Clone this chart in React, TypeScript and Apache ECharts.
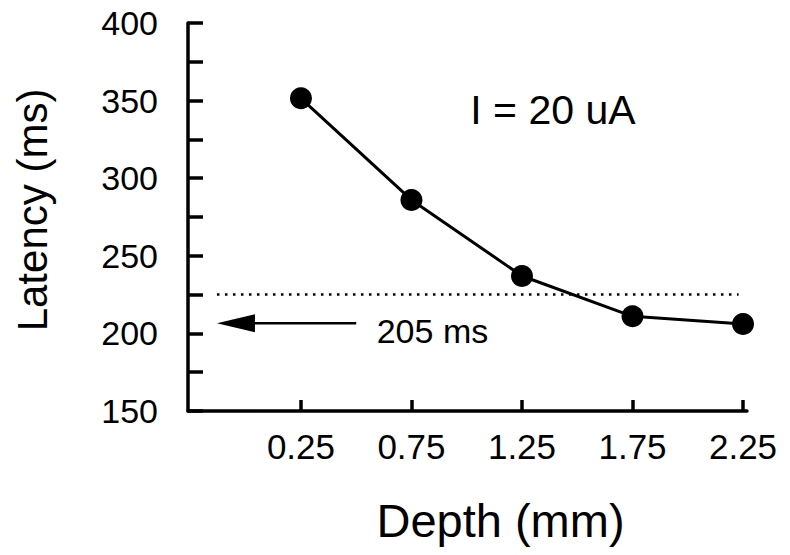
import React, { useEffect, useRef } from "react";
import * as echarts from "echarts";

const depthValues = [0.25, 0.75, 1.25, 1.75, 2.25];
const latencyValues = [351.5, 286, 237, 211, 206];
const yLabelValues = [150, 200, 250, 300, 350, 400];
const thresholdValue = 225;
const thresholdRange = [-0.13, 2.23];
const arrowLevel = 206.5;
const arrowRange = [-0.13, 0.5];
const arrowText = "205 ms";
const noteText = "I = 20 uA";
const notePos = [1.39, 344];
const arrowTextPos = [0.845, 201.5];

const FONT = "'Liberation Sans', Arial, Helvetica, sans-serif";

export default function App() {
  const ref = useRef<HTMLDivElement>(null);
  useEffect(() => {
    if (!ref.current) return;
    const chart = echarts.init(ref.current, undefined, { renderer: "svg" });
    chart.setOption({
      animation: false,
      backgroundColor: "#ffffff",
      grid: { left: 188, right: 43, top: 23, bottom: 144 },
      xAxis: {
        type: "value",
        min: -0.261,
        max: 2.268,
        name: "Depth (mm)",
        nameLocation: "middle",
        nameGap: 86,
        nameTextStyle: { fontSize: 47, color: "#000", fontFamily: FONT, padding: [0, 0, 0, 66] },
        axisLine: { show: true, onZero: false, lineStyle: { color: "#000", width: 3.5 } },
        axisTick: { show: true, inside: true, length: 11, customValues: depthValues, lineStyle: { color: "#000", width: 3.5 } },
        axisLabel: {
          customValues: depthValues,
          formatter: (v: number) => v.toFixed(2),
          fontSize: 35,
          color: "#000",
          fontFamily: FONT,
          margin: 18,
        },
        splitLine: { show: false },
      },
      yAxis: {
        type: "value",
        min: 150,
        max: 400,
        interval: 25,
        name: "Latency (ms)",
        nameLocation: "middle",
        nameGap: 135,
        nameTextStyle: { fontSize: 42, color: "#000", fontFamily: FONT, padding: [0, 0, 0, 14] },
        axisLine: { show: true, onZero: false, lineStyle: { color: "#000", width: 3.5 } },
        axisTick: { show: true, inside: true, length: 15, lineStyle: { color: "#000", width: 3.5 } },
        axisLabel: {
          customValues: yLabelValues,
          fontSize: 34,
          color: "#000",
          fontFamily: FONT,
          margin: 30,
        },
        splitLine: { show: false },
      },
      series: [
        {
          type: "line",
          data: depthValues.map((d, i) => [d, latencyValues[i]]),
          symbol: "circle",
          symbolSize: 22,
          itemStyle: { color: "#000" },
          lineStyle: { color: "#000", width: 3 },
          markLine: {
            silent: true,
            symbol: ["none", "none"],
            label: { show: false },
            lineStyle: { color: "#000", width: 2.5, type: [2.5, 5.5] },
            data: [
              [
                { coord: [thresholdRange[0], thresholdValue] },
                { coord: [thresholdRange[1], thresholdValue] },
              ],
            ],
          },
          z: 3,
        },
        {
          type: "custom",
          silent: true,
          data: [[0]],
          renderItem: (_params: any, api: any) => {
            const tip = api.coord([arrowRange[0], arrowLevel]);
            const tail = api.coord([arrowRange[1], arrowLevel]);
            const note = api.coord(notePos);
            const at = api.coord(arrowTextPos);
            return {
              type: "group",
              children: [
                {
                  type: "line",
                  shape: { x1: tip[0] + 30, y1: tip[1], x2: tail[0], y2: tail[1] },
                  style: { stroke: "#000", lineWidth: 2.5 },
                },
                {
                  type: "polygon",
                  shape: {
                    points: [
                      [tip[0], tip[1]],
                      [tip[0] + 38, tip[1] - 9],
                      [tip[0] + 38, tip[1] + 9],
                    ],
                  },
                  style: { fill: "#000" },
                },
                {
                  type: "text",
                  x: at[0],
                  y: at[1],
                  style: {
                    text: arrowText,
                    fontSize: 34,
                    fontFamily: FONT,
                    fill: "#000",
                    align: "center",
                    verticalAlign: "middle",
                  },
                },
                {
                  type: "text",
                  x: note[0],
                  y: note[1],
                  style: {
                    text: noteText,
                    fontSize: 41,
                    fontFamily: FONT,
                    fill: "#000",
                    align: "center",
                    verticalAlign: "middle",
                  },
                },
              ],
            };
          },
        },
      ],
    });
    return () => chart.dispose();
  }, []);
  return (
    <div
      ref={ref}
      style={{ position: "fixed", left: 0, top: 0, width: 790, height: 555, background: "#fff" }}
    />
  );
}
